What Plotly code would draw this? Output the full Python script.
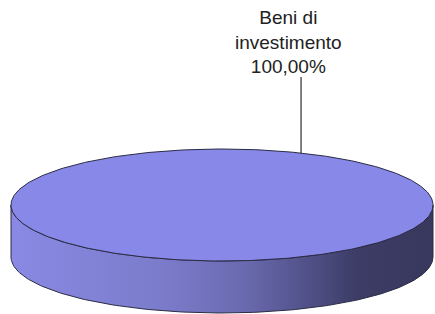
import numpy as np
import plotly.graph_objects as go

# ---- data ----
categories = ["Beni di investimento"]
values = [100.0]
top_colors = ["#8888E8"]

# ---- geometry / style (pixel space) ----
W, H = 435, 314
cx, cy = 222, 205
rx, ry = 211, 56
depth = 52
start_deg = -112  # so the label of a single full slice sits upper-right

total = sum(values)
fig = go.Figure()

# side wall (front half), filled with a horizontal gradient
t = np.linspace(np.pi, 2 * np.pi, 200)
xs_top = cx + rx * np.cos(t)
ys_top = cy - ry * np.sin(t)
xs = np.concatenate([xs_top, xs_top[::-1], xs_top[:1]])
ys = np.concatenate([ys_top, ys_top[::-1] + depth, ys_top[:1]])
fig.add_trace(go.Scatter(
    x=xs, y=ys, mode="lines", fill="toself",
    line=dict(color="#2b2b45", width=1),
    fillgradient=dict(
        type="horizontal", start=cx - rx, stop=cx + rx,
        colorscale=[[0, "#8A8AE6"], [0.08, "#8686DE"], [0.35, "#7C7CCC"],
                    [0.55, "#6A6AB0"], [0.72, "#4E4E84"], [0.82, "#3C3C66"],
                    [1, "#38385E"]]),
    hoverinfo="skip", showlegend=False))

# top face: slices from the values
ang = np.deg2rad(start_deg)
for cat, v, col in zip(categories, values, top_colors):
    span = 2 * np.pi * v / total
    tt = np.linspace(ang, ang + span, 400)
    px = cx + rx * np.cos(tt)
    py = cy - ry * np.sin(tt)
    if span < 2 * np.pi - 1e-9:
        px = np.concatenate([[cx], px, [cx]])
        py = np.concatenate([[cy], py, [cy]])
    fig.add_trace(go.Scatter(
        x=px, y=py, mode="lines", fill="toself", fillcolor=col,
        line=dict(color="#2b2b45", width=1), name=cat,
        hoverinfo="skip", showlegend=False))
    mid = ang + span / 2
    lx = cx + rx * np.cos(mid)
    ly = cy - ry * np.sin(mid)
    fig.add_trace(go.Scatter(
        x=[lx, lx], y=[ly, 77], mode="lines",
        line=dict(color="black", width=1),
        hoverinfo="skip", showlegend=False))
    pct = f"{100 * v / total:.2f}".replace(".", ",") + "%"
    words = cat.split(" ")
    label = " ".join(words[:2]) + "<br>" + " ".join(words[2:]) + "<br>" + pct
    fig.add_annotation(
        x=288, y=78.5, xref="x", yref="y", text=label, showarrow=False,
        xanchor="center", yanchor="bottom", align="center",
        font=dict(family="Liberation Sans, Arial, sans-serif", size=19,
                  color="#222222"))
    ang += span

fig.update_layout(
    width=W, height=H, margin=dict(l=0, r=0, t=0, b=0),
    paper_bgcolor="white", plot_bgcolor="white",
    xaxis=dict(range=[0, W], visible=False, fixedrange=True),
    yaxis=dict(range=[H, 0], visible=False, fixedrange=True),
)
fig.write_html(
    "out.html",
    config={"displayModeBar": False},
    post_script="document.body.style.margin='0';document.body.style.overflow='hidden';",
)
